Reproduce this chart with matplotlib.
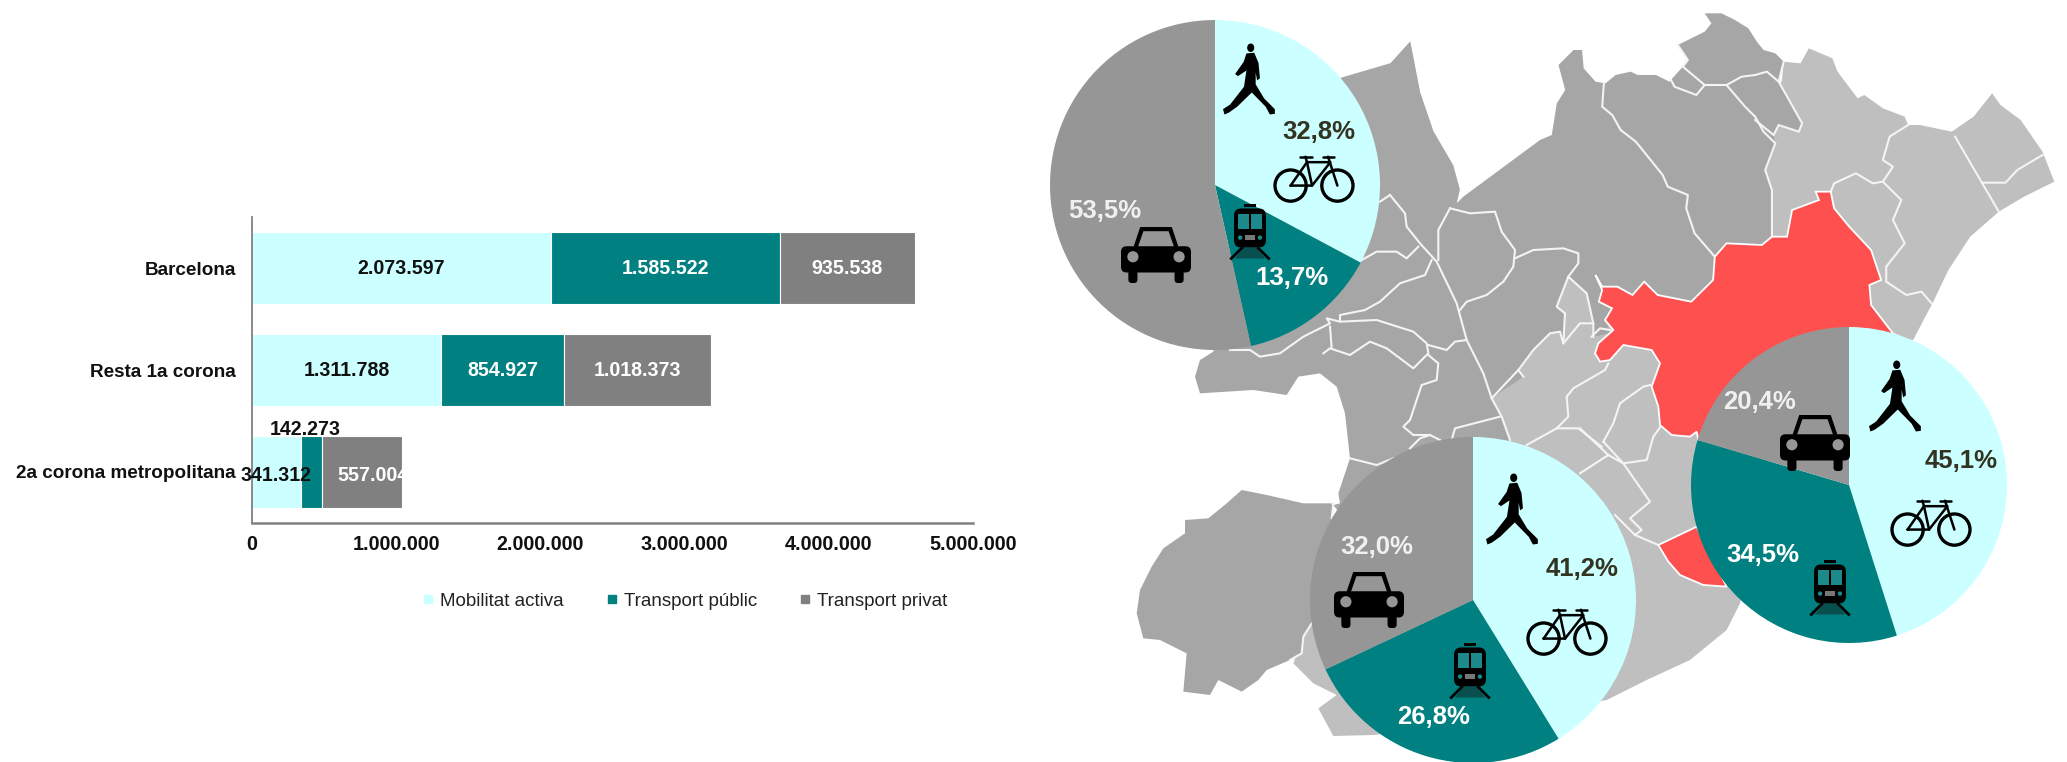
import numpy as np
import matplotlib
matplotlib.use("Agg")
import matplotlib.pyplot as plt
from matplotlib.patches import Polygon, Circle, FancyBboxPatch, Rectangle, Ellipse
from matplotlib.lines import Line2D

W, H = 2067, 762
plt.rcParams['font.family'] = ['Liberation Sans', 'DejaVu Sans']

# ---- data
categories = ["Barcelona", "Resta 1a corona", "2a corona metropolitana"]
series_names = ["Mobilitat activa", "Transport públic", "Transport privat"]
mobilitat = [2073597, 1311788, 341312]
public = [1585522, 854927, 142273]
privat = [935538, 1018373, 557004]
x_ticks = [0, 1000000, 2000000, 3000000, 4000000, 5000000]
pie_barcelona = [32.8, 13.7, 53.5]
pie_corona1 = [41.2, 26.8, 32.0]
pie_corona2 = [45.1, 34.5, 20.4]

CYAN, TEAL, GREY, PIEGREY = "#CCFFFF", "#008080", "#808080", "#969696"
DARK, LIGHT, RED = "#A6A6A6", "#BFBFBF", "#FF5050"

# map outlines; each helper maps one traced crop to figure pixels
def zo(p):  # overview crop
    return [(1030 + x / 1.512, y / 2.058) for x, y in p]
def z1(p):  # north-east crop
    return [(1540 + x / 2.975, y / 3) for x, y in p]
def z2(p):  # centre crop
    return [(1180 + x / 3, 180 + y / 3) for x, y in p]
def z3(p):  # south-west crop
    return [(1120 + x / 3, 450 + y / 3) for x, y in p]
def z4(p):  # south-east crop
    return [(1580 + x / 3, 300 + y / 3) for x, y in p]

map_light_base = (
    z2([(935,655),(1060,510),(1130,380),(1165,290),(1240,290)]) +
    z4([(130,60),(600,60),(600,300),(480,910),(440,990),(330,1080),(200,1140),(80,1200)]) +
    [(1500, 720)] +
    z3([(760,855),(640,858),(595,775),(650,735),(580,700),(520,640),(550,560),(575,520),(640,205),(700,300)])
)
map_light_ne = z1([(725,185),(775,190),(800,145),(870,175),(885,215),(945,295),(965,285),(1020,325),(1085,350),(1095,375),(1130,375),(1225,395),(1290,350),(1345,280),(1370,315),(1430,360),(1495,455),(1530,545),(1440,590),(1365,635),(1280,710),(1215,810),(1170,905),(1110,1020),(800,1020),(690,710),(660,400),(720,240)])
map_dark_main = (
    zo([(470,160),(545,130),(575,85),(590,190),(610,270),(640,340),(650,390),(645,420)]) +
    z2([(830,70),(850,50)]) +
    z1([(0,420),(35,405),(50,310),(75,270),(55,195),(100,150),(125,150),(130,205),(165,245),(195,250),(225,225),(270,215),(290,225),(345,225),(385,245),(425,200),(440,180),(410,135),(490,95),(510,70),(490,40),(540,40),(580,60),(620,85),(645,125),(665,150),(700,160),(725,185),(710,240),(780,370),(770,395),(710,375),(695,405),(700,430),(670,510),(690,570),(690,710),(660,735),(555,730),(520,770),(515,840),(450,905),(350,885),(310,845),(275,885),(230,860),(185,860),(165,825),(185,870),(175,905),(215,925),(200,970),(210,1000)]) +
    z2([(1240,470),(1240,430),(1220,340),(1165,290),(1130,380),(1155,400),(1150,490),(1140,455),(1110,460),(1060,510),(1015,570),(1030,590),(935,655),(965,710),(990,780)]) +
    [(1480, 500), (1345, 520)] +
    z3([(640,165),(660,160),(655,130),(690,25)]) +
    z2([(495,700),(470,620),(420,580),(355,590),(320,645),(220,630),(60,640),(45,590),(60,540),(100,515)]) +
    [(1230, 250)]
)
map_dark_west = z3([(365,120),(440,135),(550,160),(635,160),(640,205),(600,400),(575,520),(550,560),(545,610),(510,630),(440,660),(415,690),(365,725),(295,690),(270,735),(190,725),(200,610),(120,570),(70,565),(50,490),(60,420),(95,350),(130,295),(195,250),(195,210),(265,205),(320,160)])
map_red_main = (
    z1([(865,575),(875,625),(920,680),(985,750),(1015,840),(980,855),(985,915),(1050,1000),(1130,1040)]) +
    z4([(600,300),(355,420),(350,395),(330,410),(275,405),(240,375),(235,320),(215,260),(240,190),(215,150),(130,135),(90,180),(60,185),(45,160),(55,130),(100,90),(75,60),(96,25)]) +
    z1([(175,905),(185,870),(165,825),(185,860),(230,860),(275,885),(310,845),(350,885),(450,905),(515,840),(520,770),(555,730),(660,735),(690,710),(735,710),(750,630),(830,600),(820,575)])
)
map_red_south = z4([(235,735),(350,680),(440,860),(370,855),(300,825),(265,785)])
map_borders = [
    z2([(630,45),(675,100),(680,140),(720,190),(770,245),(830,370),(860,480),(910,580),(935,655),(965,710),(990,780)]),
    z2([(630,45),(600,65)]),
    z2([(810,85),(775,150),(775,240)]),
    z2([(810,85),(870,100),(945,95),(965,155),(1005,210),(1000,260),(970,305),(920,345),(860,365),(840,390)]),
    z2([(1005,235),(1060,210),(1150,205),(1195,220),(1195,250),(1165,290)]),
    z2([(755,240),(735,285),(660,310),(600,365),(555,390),(480,405),(480,420)]),
    z2([(545,240),(590,215),(650,215),(680,235),(715,200)]),
    z2([(150,510),(210,510),(240,530),(300,520),(370,470),(430,440),(450,430),(440,415),(480,425),(590,420),(700,455),(740,490),(745,520),(700,565),(620,505),(570,485),(510,525),(480,515),(450,505),(430,520)]),
    z2([(450,440),(455,505)]),
    z2([(745,495),(800,510),(825,485),(860,480)]),
    z2([(745,525),(775,550),(770,600),(725,615),(690,720),(670,740),(700,765),(750,765),(780,780)]),
    z2([(690,805),(720,775),(750,765)]),
    z2([(815,780),(825,745),(960,710)]),
    z2([(1040,795),(1130,745),(1165,710),(1160,650),(1180,625),(1275,570),(1285,550)]),
    z2([(1130,745),(1195,745),(1265,800)]),
    z2([(1015,570),(935,655)]),
    z2([(1240,470),(1240,430),(1200,430),(1150,490),(1140,455),(1110,460),(1060,510),(1015,570),(1030,590)]),
    z2([(1240,430),(1220,340),(1165,290),(1130,380),(1155,400),(1150,490)]),
    z2([(1235,470),(1260,445),(1290,450)]),
    z4([(0,385),(85,465)]),
    z4([(0,520),(85,465)]),
    z4([(85,465),(130,490),(210,605),(150,655),(185,690),(165,705),(105,645)]),
    z4([(165,705),(235,735)]),
    z4([(70,425),(100,370),(120,310),(190,260),(210,255)]),
    z4([(70,425),(130,490),(200,480),(220,410),(245,375)]),
    z1([(190,250),(185,320),(215,345),(240,390),(285,425),(365,525),(380,560),(440,585),(435,625),(460,700),(520,770)]),
    z1([(390,240),(400,260),(465,285),(490,255),(425,200),(440,180),(410,135)]),
    z1([(490,255),(555,255),(600,230),(640,225),(675,215),(710,245)]),
    z1([(555,255),(610,320),(640,350),(665,395),(700,430),(670,510),(690,570),(690,710)]),
    z1([(640,360),(695,405),(710,375),(770,395),(780,370),(710,245),(725,185)]),
    z1([(1095,375),(1040,410),(1020,480),(1050,500),(1020,545),(990,550),(940,520),(875,550),(865,575)]),
    z1([(1020,545),(1075,600),(1050,660),(1085,730),(1030,800),(1030,845),(1090,885),(1135,875),(1165,910)]),
    z1([(1235,410),(1310,540),(1365,635)]),
    z1([(1315,548),(1385,548),(1420,510),(1495,465)]),
    z3([(640,160),(635,205)]),
    z3([(575,520),(550,560),(545,610),(510,630)]),
    z3([(690,25),(770,45),(820,25)]),
]

fig = plt.figure(figsize=(W / 100, H / 100), dpi=100, facecolor="white")

def px_axes(left, top, right, bottom, **kw):
    return fig.add_axes([left / W, 1 - bottom / H, (right - left) / W, (bottom - top) / H], **kw)

# ---- map layer
mp = px_axes(0, 0, W, H, zorder=0)
mp.set_xlim(0, W); mp.set_ylim(H, 0); mp.axis("off")
for pts, c in [(map_light_base, LIGHT), (map_light_ne, LIGHT), (map_dark_main, DARK), (map_dark_west, DARK)]:
    mp.add_patch(Polygon(pts, closed=True, fc=c, ec="none"))
for pts in (map_red_main, map_red_south):
    mp.add_patch(Polygon(pts, closed=True, fc=RED, ec="white", lw=1.3, zorder=3))
for ln in map_borders:
    p = np.array(ln)
    mp.plot(p[:, 0], p[:, 1], color="#F4F4F4", lw=1.5, solid_joinstyle="round", zorder=2)

# ---- bar chart
ax = px_axes(252, 217, 973, 523, zorder=2)
ax.patch.set_alpha(0)
ypos = np.arange(len(categories))
left = np.zeros(3)
containers = []
for vals, col in zip([mobilitat, public, privat], [CYAN, TEAL, GREY]):
    containers.append(ax.barh(ypos, vals, left=left, height=0.71, color=col, edgecolor="white", linewidth=0.8))
    left += np.array(vals)
ax.set_xlim(0, 5000000)
ax.set_ylim(2.5, -0.5)
ax.set_yticks(ypos, categories, fontsize=13.6, fontweight="bold", color="#111111")
ax.set_xticks(x_ticks)
ax.set_xticklabels([f"{v:,}".replace(",", ".") for v in x_ticks], fontsize=14.2, fontweight="bold", color="#111111")
ax.tick_params(length=0, axis="y", pad=11.5)
ax.tick_params(length=0, axis="x", pad=8.5)
for s in ("top", "right"):
    ax.spines[s].set_visible(False)
ax.spines["left"].set_color("#808080"); ax.spines["left"].set_linewidth(1.3)
ax.spines["bottom"].set_color("#808080"); ax.spines["bottom"].set_linewidth(1.8)

def fmt(v):
    return f"{v:,}".replace(",", ".")
lab = dict(fontsize=14.1, fontweight="bold", va="center", ha="center")
for i in range(3):
    m, p, g = mobilitat[i], public[i], privat[i]
    if i < 2:
        ax.text(m / 2, i, fmt(m), color="#111111", **lab)
        ax.text(m + p / 2, i, fmt(p), color="white", **lab)
        ax.text(m + p + g / 2, i, fmt(g), color="white", **lab)
    else:
        ax.text(m / 2 - 5000, i + 0.03, fmt(m), color="#111111", **lab)
        ax.text(m + p / 2 - 40000, i - 0.42, fmt(p), color="#111111", **lab)
        t = ax.text(m + p + g / 2 + 75000, i + 0.03, fmt(g), color="white", **lab)
        t.set_clip_path(containers[2][i])

handles = [Line2D([], [], marker="s", ls="none", ms=5.5, color=c) for c in (CYAN, TEAL, GREY)]
fig.legend(handles, series_names, loc="center", bbox_to_anchor=(685 / W, 1 - 601 / H), ncol=3,
           frameon=False, fontsize=13.5, handlelength=0.6, handletextpad=0.35, columnspacing=2.25,
           labelcolor="#222222")

# ---- pies
def pie(vals, cx, cy, r):
    a = px_axes(cx - r, cy - r, cx + r, cy + r, zorder=3)
    a.pie(vals, colors=[CYAN, TEAL, PIEGREY], startangle=90, counterclock=False, radius=1.0,
          wedgeprops=dict(linewidth=0))
    a.set_xlim(-1, 1); a.set_ylim(-1, 1)
    return a
pie(pie_barcelona, 1215, 185, 165)
pie(pie_corona1, 1473, 600, 163)
pie(pie_corona2, 1849, 485, 158)

# ---- overlay with icons and labels
ov = px_axes(0, 0, W, H, zorder=4)
ov.patch.set_alpha(0)
ov.set_xlim(0, W); ov.set_ylim(H, 0); ov.axis("off")

def pct(v):
    return f"{v:.1f}%".replace(".", ",")
for v, x, y, c in [(pie_barcelona[0], 1319, 132, "#333322"), (pie_barcelona[1], 1292, 278, "white"), (pie_barcelona[2], 1105, 211, "#F0F0F0"),
                   (pie_corona1[0], 1582, 569, "#333322"), (pie_corona1[1], 1434, 717, "white"), (pie_corona1[2], 1377, 547, "#F0F0F0"),
                   (pie_corona2[0], 1961, 461, "#333322"), (pie_corona2[1], 1763, 555, "white"), (pie_corona2[2], 1760, 402, "#F0F0F0")]:
    ov.text(x, y, pct(v), color=c, fontsize=18.5, fontweight="bold", ha="center", va="center")

def walker(cx, cy, h=71):
    s = h / 2
    ov.add_patch(Ellipse((cx + 0.02 * s, cy - 0.88 * s), 0.2 * s, 0.24 * s, fc="black", ec="none"))
    body = [(-0.10,-0.72),(0.12,-0.74),(0.24,-0.45),(0.28,-0.02),(0.20,0.04),(0.16,-0.18),(0.16,0.15),(0.40,0.55),(0.70,0.85),(0.70,0.98),(0.56,1.0),(0.44,0.78),(0.05,0.38),(-0.36,0.78),(-0.60,0.95),(-0.72,1.0),(-0.76,0.85),(-0.56,0.72),(-0.17,0.22),(-0.10,-0.24),(-0.34,-0.08),(-0.42,-0.14),(-0.18,-0.48)]
    ov.add_patch(Polygon([(cx + x * s, cy + y * s) for x, y in body], closed=True, fc="black", ec="none"))

def bike(cx, cy, w=78):
    s = w / 2
    r = 0.40 * s
    lx, rx = cx - 0.60 * s, cx + 0.60 * s
    wy = cy + 0.22 * s
    for x in (lx, rx):
        ov.add_patch(Circle((x, wy), r, fc="none", ec="black", lw=2.4))
    lines = [[(-0.60,0.22),(-0.18,-0.38),(0.42,-0.38),(-0.05,0.22),(-0.60,0.22)],
             [(-0.18,-0.38),(-0.05,0.22)],
             [(0.36,-0.52),(0.60,0.22)],
             [(0.22,-0.52),(0.52,-0.52)],
             [(-0.35,-0.52),(-0.05,-0.52)],
             [(-0.22,-0.52),(-0.18,-0.38)]]
    for ln in lines:
        ov.plot([cx + x * s for x, _ in ln], [cy + y * s for _, y in ln], color="black", lw=1.8, solid_capstyle="round")

def train(cx, cy, h=55):
    s = h / 2
    ov.add_patch(FancyBboxPatch((cx - 0.58 * s, cy - 0.82 * s), 1.16 * s, 1.42 * s, boxstyle=f"round,pad=0,rounding_size={0.26 * s}", fc="black", ec="none"))
    for d in (-1, 1):
        x0 = cx - 0.44 * s if d < 0 else cx + 0.03 * s
        ov.add_patch(Rectangle((x0, cy - 0.62 * s), 0.41 * s, 0.56 * s, fc="#1C8A8A", ec="none"))
        ov.add_patch(Circle((cx + d * 0.36 * s, cy + 0.24 * s), 0.08 * s, fc="#1C8A8A", ec="none"))
        ov.plot([cx + d * 0.30 * s, cx + d * 0.68 * s], [cy + 0.62 * s, cy + 1.0 * s], color="black", lw=2)
    ov.add_patch(Rectangle((cx - 0.22 * s, cy - 1.0 * s), 0.44 * s, 0.12 * s, fc="black", ec="none"))
    ov.add_patch(Rectangle((cx - 0.18 * s, cy + 0.16 * s), 0.36 * s, 0.18 * s, fc="#777777", ec="none"))
    ov.add_patch(Polygon([(cx - 0.25 * s, cy + 0.62 * s), (cx + 0.25 * s, cy + 0.62 * s), (cx + 0.55 * s, cy + 1.0 * s), (cx - 0.55 * s, cy + 1.0 * s)], closed=True, fc="#0A4F4F", ec="none"))

def car(cx, cy, w=70):
    s = w / 2
    ov.add_patch(Polygon([(cx - 0.68 * s, cy - 0.12 * s), (cx - 0.45 * s, cy - 0.80 * s), (cx + 0.45 * s, cy - 0.80 * s), (cx + 0.68 * s, cy - 0.12 * s)], closed=True, fc="black", ec="none"))
    ov.add_patch(Polygon([(cx - 0.52 * s, cy - 0.22 * s), (cx - 0.36 * s, cy - 0.68 * s), (cx + 0.36 * s, cy - 0.68 * s), (cx + 0.52 * s, cy - 0.22 * s)], closed=True, fc="#969696", ec="none"))
    ov.add_patch(FancyBboxPatch((cx - s, cy - 0.25 * s), 2 * s, 0.75 * s, boxstyle=f"round,pad=0,rounding_size={0.16 * s}", fc="black", ec="none"))
    for d in (-1, 1):
        ov.add_patch(Circle((cx + d * 0.66 * s, cy + 0.05 * s), 0.16 * s, fc="#969696", ec="none"))
        ov.add_patch(FancyBboxPatch((cx + d * 0.66 * s - 0.13 * s, cy + 0.42 * s), 0.26 * s, 0.38 * s, boxstyle=f"round,pad=0,rounding_size={0.1 * s}", fc="black", ec="none"))

for x, y in [(1250, 79), (1513, 509), (1896, 396)]:
    walker(x, y)
for x, y in [(1314, 177), (1567, 630), (1931, 521)]:
    bike(x, y)
for x, y in [(1250, 231), (1470, 670), (1830, 587)]:
    train(x, y)
for x, y in [(1156, 255), (1369, 600), (1815, 443)]:
    car(x, y)

fig.savefig("out.png", dpi=100)
